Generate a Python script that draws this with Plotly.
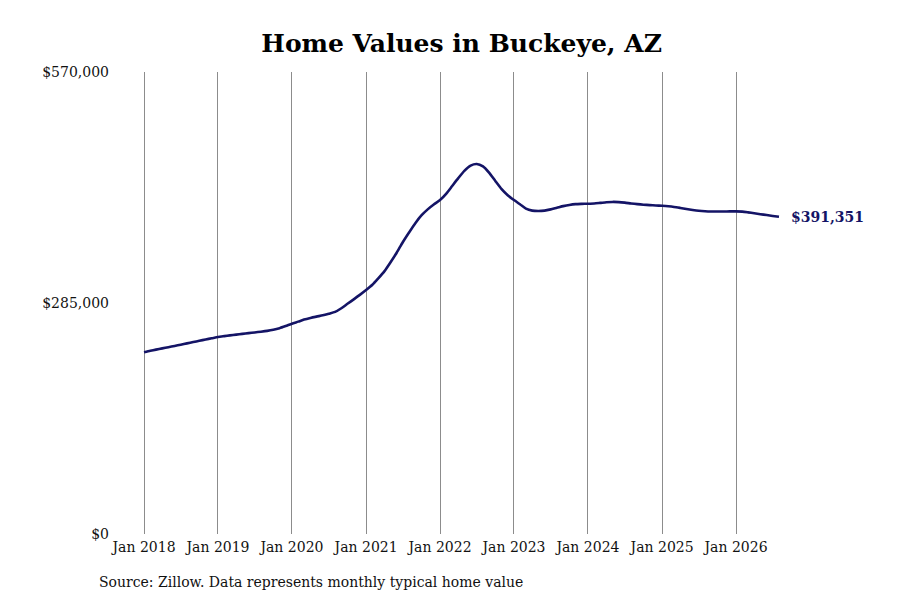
import plotly.graph_objects as go
import pandas as pd

# monthly typical home value, Jan 2018 - Aug 2026 (in $ thousands)
v2018 = [224.2, 226.0, 227.5, 229.0, 230.5, 232.0, 233.6, 235.2, 236.8, 238.4, 240.0, 241.5]
v2019 = [243.0, 244.1, 245.1, 246.0, 246.9, 247.8, 248.7, 249.6, 250.6, 252.0, 254.0, 256.6]
v2020 = [259.5, 262.0, 264.5, 266.5, 268.2, 269.8, 271.8, 274.0, 278.5, 284.0, 289.5, 295.0]
v2021 = [301.0, 307.5, 315.0, 324.0, 335.0, 347.0, 360.0, 372.0, 383.5, 393.0, 400.5, 406.5]
v2022 = [412.0, 420.0, 429.0, 439.0, 448.0, 454.5, 456.5, 453.5, 445.5, 435.5, 425.5, 418.0]
v2023 = [412.0, 406.5, 401.5, 399.0, 398.5, 399.0, 400.5, 402.5, 404.5, 406.0, 407.0, 407.3]
v2024 = [407.5, 407.8, 408.5, 409.3, 409.7, 409.5, 408.8, 407.8, 407.0, 406.3, 405.8, 405.3]
v2025 = [404.9, 404.3, 403.5, 402.3, 401.0, 399.8, 398.8, 398.2, 397.9, 397.8, 397.9, 398.0]
v2026 = [398.0, 397.7, 396.8, 395.7, 394.6, 393.5, 392.4, 391.351]

values = [v * 1000 for v in v2018 + v2019 + v2020 + v2021 + v2022 + v2023 + v2024 + v2025 + v2026]
dates = pd.date_range("2018-01-01", periods=len(values), freq="MS")

y_ticks = [0, 285000, 570000]
y_labels = ["$0", "$285,000", "$570,000"]

serif = "DejaVu Serif"
navy = "#141466"

fig = go.Figure()
fig.add_trace(go.Scatter(x=dates, y=values, mode="lines",
                         line=dict(color=navy, width=2.6, shape="spline", smoothing=0.6),
                         hoverinfo="skip", showlegend=False))

fig.add_annotation(x=dates[-1], y=values[-1], text="<b>$%s</b>" % format(round(values[-1]), ","),
                   showarrow=False, xanchor="left", xshift=10,
                   font=dict(family=serif, size=14, color=navy))

# the page adds an 8px body margin, so the margins are offset to compensate
fig.update_layout(
    width=900, height=600,
    margin=dict(l=102, r=128, t=64, b=74, autoexpand=False),
    plot_bgcolor="white", paper_bgcolor="white",
    font=dict(family=serif, size=14, color="#111"),
    title=dict(text="<b>Home Values in Buckeye, AZ</b>", x=0.504, xanchor="center",
               y=0.942, yanchor="middle", font=dict(family=serif, size=25, color="#000")),
    xaxis=dict(range=["2017-07-17", "2026-08-06"], showgrid=True, gridcolor="#8c8c8c",
               gridwidth=1, dtick="M12", tick0="2018-01-01", tickformat="%b %Y",
               showline=False, zeroline=False, ticks="", tickfont=dict(size=14),
               ticklabelstandoff=3, automargin=False),
    yaxis=dict(range=[0, 570000], tickvals=y_ticks, ticktext=y_labels, showgrid=False,
               zeroline=False, showline=False, ticks="", tickfont=dict(size=14),
               automargin=False),
)

fig.add_annotation(text="Source: Zillow. Data represents monthly typical home value",
                   xref="paper", yref="paper", x=-0.0194, y=-0.104, xanchor="left",
                   yanchor="middle", showarrow=False, font=dict(family=serif, size=14, color="#111"))

fig.write_html("out.html")
